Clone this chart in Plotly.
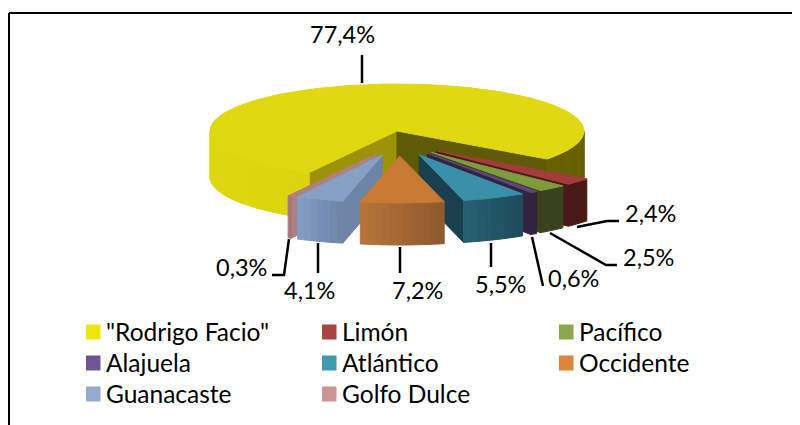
import math
import plotly.graph_objects as go

# ---- data ----
categories = ['"Rodrigo Facio"', "Limón", "Pacífico", "Alajuela", "Atlántico", "Occidente", "Guanacaste", "Golfo Dulce"]
values = [77.4, 2.4, 2.5, 0.6, 5.5, 7.2, 4.1, 0.3]
value_labels = ["77,4%", "2,4%", "2,5%", "0,6%", "5,5%", "7,2%", "4,1%", "0,3%"]

# ---- styles ----
legend_colors = ["#F0E60F", "#A94442", "#8BA64B", "#6F5594", "#3F99B1", "#DE853C", "#95AACF", "#D09393"]
top_colors = ["#E0D810", "#A43C3C", "#7F9B40", "#5E4585", "#3A90A8", "#C87A35", "#86A0C6", "#B08080"]
side_a = ["#DCD40E", "#4A1A18", "#3A421E", "#30243F", "#1E4C5C", "#8F5A2D", "#6E85A8", "#A87878"]
side_b = ["#E0D810", "#4A1A18", "#3A421E", "#30243F", "#266072", "#B5733A", "#849CC2", "#A87878"]
cut_start = ["#9B9208", "#4A1A18", "#3A421E", "#30243F", "#1A404E", "#8F5A2D", "#6E84A6", "#B08080"]
cut_end = ["#5F5A05", "#4A1A18", "#3A421E", "#30243F", "#1A404E", "#8F5A2D", "#6E84A6", "#A87878"]
yellow_right_side = "#676103"
FONT = "Lato"
FS_LABEL = 23.5
FS_LEGEND = 24.5

# ---- geometry of the page and of the pie ----
CX, CY, RX, RY = 397, 131, 187, 47
START = 118.0
draw_order = [0, 1, 2, 3, 4, 7, 6, 5]
leaders = [
    [(362, 55), (362, 83)],
    [(577, 227), (607, 221), (619, 221)],
    [(550, 233), (606, 265), (617, 265)],
    [(532, 237), (543, 286)],
    [(491, 243), (491, 267)],
    [(400, 247), (400, 273)],
    [(318, 243), (318, 273)],
    [(289, 239), (284, 275), (272, 275)],
]
label_pos = [(342, 34), (650, 213), (648, 257), (573, 278), (500, 284), (417, 290), (309, 290), (241, 267)]
legend_x = [86, 322, 559]
legend_y = [332, 363, 394]


def hex_mix(a, b, f):
    ca = [int(a[i:i + 2], 16) for i in (1, 3, 5)]
    cb = [int(b[i:i + 2], 16) for i in (1, 3, 5)]
    return "#%02X%02X%02X" % tuple(round(x + (y - x) * f) for x, y in zip(ca, cb))


fig = go.Figure()


def poly(xs, ys, color):
    fig.add_trace(go.Scatter(
        x=list(xs) + [xs[0]], y=list(ys) + [ys[0]], mode="lines", fill="toself",
        fillcolor=color, line=dict(color=color, width=1), hoverinfo="skip", showlegend=False,
    ))


def pt(cx, cy, deg):
    r = math.radians(deg)
    return cx + RX * math.cos(r), cy + RY * math.sin(r)


def side_band(cx, cy, a0, a1, depth, ca, cb):
    """Outer wall between angles a0 and a1, shaded from ca to cb."""
    n = max(2, int(abs(a1 - a0) / 2))
    for k in range(n):
        t0 = a0 + (a1 - a0) * k / n
        t1 = a0 + (a1 - a0) * (k + 1) / n
        x0, y0 = pt(cx, cy, t0)
        x1, y1 = pt(cx, cy, t1)
        poly([x0, x1, x1, x0], [y0, y1, y1 + depth, y0 + depth], hex_mix(ca, cb, k / max(1, n - 1)))


def cut_face(cx, cy, deg, depth, color):
    x, y = pt(cx, cy, deg)
    poly([cx, x, x, cx], [cy, y, y + depth, cy + depth], color)


total = sum(values)
angles = []
acc = START
for v in values:
    angles.append((acc, acc + v / total * 360))
    acc += v / total * 360

for i in draw_order:
    a0, a1 = angles[i]
    mid = math.radians((a0 + a1) / 2)
    if i == 0:
        cx, cy, depth = CX, CY, 46
    else:
        cx = CX + 2 + 50 * math.cos(mid)
        cy = CY + 10 + 15 * math.sin(mid)
        depth = 42
    # cut faces that look towards the viewer
    if math.cos(math.radians(a0)) < 0:
        cut_face(cx, cy, a0, depth, cut_start[i])
    if math.cos(math.radians(a1)) > 0:
        cut_face(cx, cy, a1, depth, cut_end[i])
    # outer wall
    if i == 0:
        side_band(cx, cy, 360, a1, depth, yellow_right_side, yellow_right_side)
        side_band(cx, cy, 180, a0, depth, side_b[i], side_a[i])
    else:
        side_band(cx, cy, a0, a1, depth, side_a[i], side_b[i])
    # top
    n = max(2, int((a1 - a0) / 2))
    arc = [pt(cx, cy, a0 + (a1 - a0) * k / n) for k in range(n + 1)]
    poly([cx] + [p[0] for p in arc], [cy] + [p[1] for p in arc], top_colors[i])

# leader lines
for seg in leaders:
    fig.add_trace(go.Scatter(
        x=[p[0] for p in seg], y=[p[1] for p in seg], mode="lines",
        line=dict(color="#000000", width=2.5), hoverinfo="skip", showlegend=False,
    ))

# value labels
for txt, (x, y) in zip(value_labels, label_pos):
    fig.add_annotation(x=x, y=y, text=txt, showarrow=False, xanchor="center", yanchor="middle",
                       font=dict(family=FONT, size=FS_LABEL, color="#000000"))

# legend
for i, name in enumerate(categories):
    col, row = i % 3, i // 3
    x, y = legend_x[col], legend_y[row]
    fig.add_shape(type="rect", x0=x, x1=x + 14.5, y0=y - 7.5, y1=y + 7.5,
                  fillcolor=legend_colors[i], line=dict(width=0))
    fig.add_annotation(x=x + 17.5, y=y - 1, text=name, showarrow=False, xanchor="left", yanchor="middle",
                       font=dict(family=FONT, size=FS_LEGEND, color="#000000"))

# frame: top and left rules only
fig.add_shape(type="line", x0=9, x1=800, y0=13, y1=13, line=dict(color="#000000", width=2))
fig.add_shape(type="line", x0=9, x1=9, y0=13, y1=425, line=dict(color="#000000", width=2))

# The page keeps an 8 px body margin, so the plot covers x 8-800 and y 8-425 of the window.
fig.update_layout(
    width=792, height=417, margin=dict(l=0, r=0, t=0, b=0),
    paper_bgcolor="#FFFFFF", plot_bgcolor="#FFFFFF", showlegend=False,
    xaxis=dict(range=[8, 800], visible=False, fixedrange=True),
    yaxis=dict(range=[425, 8], visible=False, fixedrange=True),
)
fig.write_html("out.html", config={"displayModeBar": False})
